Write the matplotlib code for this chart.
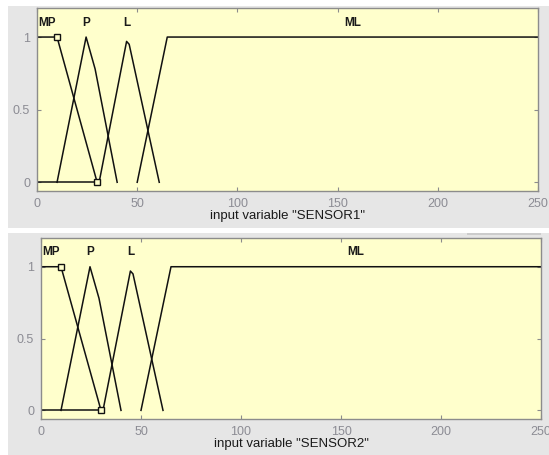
import matplotlib
matplotlib.use("Agg")
import matplotlib.pyplot as plt
from matplotlib.patches import Rectangle

plt.rcParams['font.family'] = ['Liberation Sans', 'DejaVu Sans']

# Membership functions (same for both sensors)
mp_x = [0, 10, 30]
mp_y = [1, 1, 0]
p_x = [10, 24.5, 29, 40]
p_y = [0, 1, 0.78, 0]
l_x = [31, 44.7, 46, 61]
l_y = [0, 0.97, 0.95, 0]
ml_x = [50, 65, 250]
ml_y = [0, 1, 1]
base_x = [0, 30]
base_y = [0, 0]

mf_names = ["MP", "P", "L", "ML"]
mf_label_x = [5, 24.5, 45, 157.5]

x_ticks = [0, 50, 100, 150, 200, 250]
y_ticks = [0, 0.5, 1]
y_ticklabels = ["0", "0.5", "1"]
var_names = ["SENSOR1", "SENSOR2"]

W, H = 549, 455
fig = plt.figure(figsize=(W / 100, H / 100), dpi=100, facecolor="white")

GRAY = "#e6e6e6"
for (x0, y0, w, h, c) in [(8, 6, W - 8, 222, GRAY),
                          (8, 233, W - 8, H - 233, GRAY),
                          (467, 233, 74, 2, "#cccccc")]:
    fig.add_artist(Rectangle((x0 / W, 1 - (y0 + h) / H), w / W, h / H,
                             transform=fig.transFigure, facecolor=c,
                             edgecolor="none", zorder=-10))

axes_px = [(37, 538, 8, 191), (41, 541, 238, 419)]
TICKC = "#8c8c94"

for (l, r, t, b), vname in zip(axes_px, var_names):
    ax = fig.add_axes([l / W, 1 - b / H, (r - l) / W, (b - t) / H])
    ax.set_zorder(5)
    ax.set_facecolor("#ffffcc")
    ax.set_xlim(0, 250)
    ax.set_ylim(-0.06, 1.2)
    for sp in ax.spines.values():
        sp.set_color("#8c8c8c")
        sp.set_linewidth(1.0)
    ax.set_xticks(x_ticks)
    ax.set_xticklabels([str(v) for v in x_ticks])
    ax.set_yticks(y_ticks)
    ax.set_yticklabels(y_ticklabels)
    ax.tick_params(direction="in", length=3, width=0.8, color="#8c8c8c",
                   labelcolor=TICKC, labelsize=9, top=True, right=True, pad=5)

    lw = 1.1
    lc = "#111111"
    ax.plot(base_x, base_y, color=lc, lw=lw)
    ax.plot(mp_x, mp_y, color=lc, lw=lw)
    ax.plot(p_x, p_y, color=lc, lw=lw)
    ax.plot(l_x, l_y, color=lc, lw=lw)
    ax.plot(ml_x, ml_y, color=lc, lw=lw)
    ax.plot(mp_x[1:], mp_y[1:], linestyle="none", marker="s", markersize=5,
            markerfacecolor="#ffffcc", markeredgecolor=lc, markeredgewidth=1.0)

    for name, lx in zip(mf_names, mf_label_x):
        ax.text(lx, 1.1, name, ha="center", va="center", fontsize=8.5,
                color="#1a1a1a", fontweight="bold")

    ax.set_xlabel(f'input variable "{vname}"', fontsize=9.5, color="#1a1a1a", labelpad=0)

fig.savefig("out.png", dpi=100, facecolor="white")
